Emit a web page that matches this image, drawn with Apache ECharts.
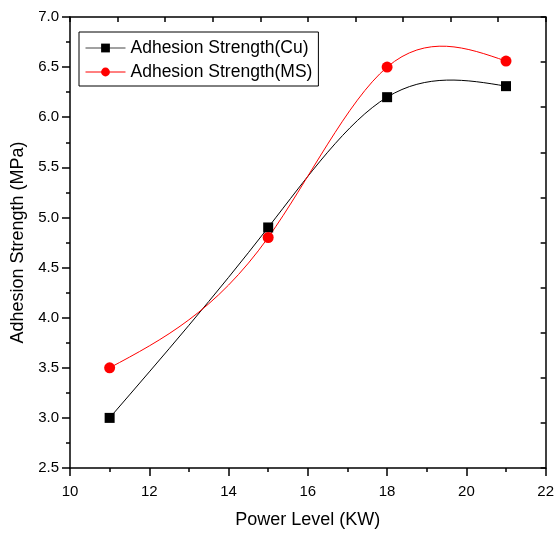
<!DOCTYPE html>
<html>
<head>
<meta charset="utf-8">
<script src="https://cdn.jsdelivr.net/npm/echarts@6/dist/echarts.min.js"></script>
<style>html,body{margin:0;padding:0;background:#fff}#c{width:557px;height:534px}</style>
</head>
<body>
<div id="c"></div>
<script>
const powerLevels = [11, 15, 18, 21];
const cuStrength = [3.0, 4.9, 6.2, 6.31];
const msStrength = [3.5, 4.8, 6.5, 6.56];
const seriesNames = ['Adhesion Strength(Cu)', 'Adhesion Strength(MS)'];
const xTitle = 'Power Level (KW)';
const yTitle = 'Adhesion Strength (MPa)';

const font = 'Arial, "Liberation Sans", sans-serif';
const chart = echarts.init(document.getElementById('c'), null, {renderer: 'canvas'});
const pair = (xs, ys) => xs.map((x, i) => [x, ys[i]]);

// natural cubic spline through the knots (as the original plotting tool draws)
function splineSegments(xs, ys) {
  const n = xs.length - 1;
  const h = [], d = [];
  for (let i = 0; i < n; i++) { h.push(xs[i + 1] - xs[i]); d.push((ys[i + 1] - ys[i]) / h[i]); }
  const M = new Array(n + 1).fill(0);
  const a = [], b = [], c = [], r = [];
  for (let i = 1; i < n; i++) {
    a.push(h[i - 1]); b.push(2 * (h[i - 1] + h[i])); c.push(h[i]); r.push(6 * (d[i] - d[i - 1]));
  }
  const m = b.length;
  for (let i = 1; i < m; i++) {
    const w = a[i] / b[i - 1];
    b[i] -= w * c[i - 1]; r[i] -= w * r[i - 1];
  }
  for (let i = m - 1; i >= 0; i--) {
    M[i + 1] = (r[i] - (i < m - 1 ? c[i] * M[i + 2] : 0)) / b[i];
  }
  const segs = [];
  for (let i = 0; i < n; i++) {
    const s0 = d[i] - h[i] * (2 * M[i] + M[i + 1]) / 6;
    const s1 = d[i] + h[i] * (M[i] + 2 * M[i + 1]) / 6;
    segs.push([
      [xs[i], ys[i]],
      [xs[i] + h[i] / 3, ys[i] + s0 * h[i] / 3],
      [xs[i + 1] - h[i] / 3, ys[i + 1] - s1 * h[i] / 3],
      [xs[i + 1], ys[i + 1]]
    ]);
  }
  return segs;
}

function curveSeries(ys, color) {
  const segs = splineSegments(powerLevels, ys);
  return {
    type: 'custom', silent: true, z: 1,
    data: [[powerLevels[0], ys[0]]],
    renderItem: (params, api) => {
      let path = '';
      segs.forEach((s, k) => {
        const p = s.map(pt => api.coord(pt));
        if (k === 0) path += 'M' + p[0][0] + ' ' + p[0][1];
        path += 'C' + p[1][0] + ' ' + p[1][1] + ' ' + p[2][0] + ' ' + p[2][1] + ' ' + p[3][0] + ' ' + p[3][1];
      });
      return {
        type: 'path',
        shape: {pathData: path},
        style: {fill: null, stroke: color, lineWidth: 1}
      };
    }
  };
}

chart.setOption({
  animation: false,
  backgroundColor: '#fff',
  grid: {left: 70, top: 17, right: 9, bottom: 64, containLabel: false},
  legend: {
    orient: 'vertical', left: 79, top: 32,
    borderColor: '#000', borderWidth: 1, padding: [7, 6, 5, 6],
    itemWidth: 40, itemHeight: 11, itemGap: 6,
    textStyle: {fontFamily: font, fontSize: 17.5, color: '#000'},
    data: [
      {name: seriesNames[0], lineStyle: {opacity: 1, width: 1, color: '#444'}},
      {name: seriesNames[1], lineStyle: {opacity: 1, width: 1, color: '#ff0000'}}
    ]
  },
  xAxis: [{
    type: 'value', min: 10, max: 22, interval: 2,
    name: xTitle, nameLocation: 'middle', nameGap: 43,
    nameTextStyle: {fontFamily: font, fontSize: 18, color: '#000'},
    axisLine: {onZero: false, lineStyle: {color: '#000', width: 1.5}},
    axisTick: {inside: false, length: 8, lineStyle: {color: '#000', width: 1.5}},
    minorTick: {show: true, splitNumber: 2, length: 4, lineStyle: {color: '#000', width: 1.5}},
    axisLabel: {fontFamily: font, fontSize: 15, color: '#000', margin: 16},
    splitLine: {show: false}
  }, {
    type: 'value', position: 'top', min: 0, max: 10, interval: 1,
    axisLine: {onZero: false, lineStyle: {color: '#000', width: 1.5}},
    axisTick: {inside: true, length: 5, lineStyle: {color: '#000', width: 1.5}},
    axisLabel: {show: false}, splitLine: {show: false}
  }],
  yAxis: [{
    type: 'value', min: 2.5, max: 7.0, interval: 0.5,
    name: yTitle, nameLocation: 'middle', nameGap: 43,
    nameTextStyle: {fontFamily: font, fontSize: 18, color: '#000'},
    axisLine: {show: true, onZero: false, lineStyle: {color: '#000', width: 1.5}},
    axisTick: {show: true, inside: false, length: 8, lineStyle: {color: '#000', width: 1.5}},
    minorTick: {show: true, splitNumber: 2, length: 4, lineStyle: {color: '#000', width: 1.5}},
    axisLabel: {fontFamily: font, fontSize: 15, color: '#000', margin: 11, formatter: v => v.toFixed(1)},
    splitLine: {show: false}
  }, {
    type: 'value', position: 'right', min: 0, max: 10, interval: 1,
    axisLine: {show: true, onZero: false, lineStyle: {color: '#000', width: 1.5}},
    axisTick: {show: true, inside: true, length: 5, lineStyle: {color: '#000', width: 1.5}},
    axisLabel: {show: false}, splitLine: {show: false}
  }],
  series: [
    curveSeries(cuStrength, '#000'),
    curveSeries(msStrength, '#ff0000'),
    {
      name: seriesNames[0], type: 'line', z: 3,
      data: pair(powerLevels, cuStrength),
      symbol: 'rect', symbolSize: 10,
      itemStyle: {color: '#000'}, lineStyle: {color: '#000', width: 1, opacity: 0}
    }, {
      name: seriesNames[1], type: 'line', z: 3,
      data: pair(powerLevels, msStrength),
      symbol: 'circle', symbolSize: 11,
      itemStyle: {color: '#ff0000'}, lineStyle: {color: '#ff0000', width: 1, opacity: 0}
    }
  ]
});
</script>
</body>
</html>
